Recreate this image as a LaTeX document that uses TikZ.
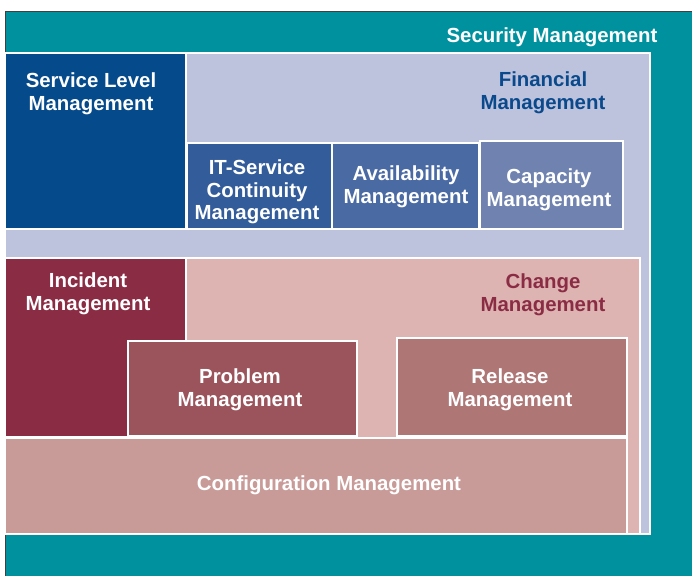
\documentclass[tikz,border=0pt]{standalone}
\usepackage{fontspec}
\setmainfont{Liberation Sans}
\definecolor{teal1}{RGB}{0,145,159}
\definecolor{lav}{RGB}{190,195,221}
\definecolor{slm}{RGB}{5,74,139}
\definecolor{itsc}{RGB}{51,92,154}
\definecolor{avail}{RGB}{74,106,164}
\definecolor{capac}{RGB}{112,131,176}
\definecolor{finblue}{RGB}{10,74,140}
\definecolor{incid}{RGB}{139,44,69}
\definecolor{chg}{RGB}{222,180,178}
\definecolor{chgtext}{RGB}{139,44,69}
\definecolor{probl}{RGB}{156,84,92}
\definecolor{relea}{RGB}{175,118,118}
\definecolor{confg}{RGB}{200,155,152}
\tikzset{
  area/.style={draw=white, line width=1.5pt},
  lbl/.style={font=\fontsize{20.4}{22.5}\selectfont\bfseries, align=center, inner sep=0pt, text=white},
}
\begin{document}
\begin{tikzpicture}[x=1pt,y=-1pt]
\useasboundingbox (0,0) rectangle (692,576);
% outer security area
\fill[teal1] (5,11) rectangle (692,576);
\draw[black!75, line width=0.8pt] (5,576) -- (5,11) -- (692,11);
\node[lbl, anchor=center] (secl) at (552,37) {Security Management};
% financial
\draw[area, fill=lav] (5,53) rectangle (650,534);
\node[lbl, text=finblue] (finl) at (543,93) {Financial\\Management};
% service level
\draw[area, fill=slm] (5,53) rectangle (186,229);
\node[lbl] (slml) at (91,94) {Service Level\\Management};
% IT service continuity
\draw[area, fill=itsc] (187,143) rectangle (332,229);
\node[lbl] (itscl) at (257,192) {IT-Service\\Continuity\\Management};
% availability
\draw[area, fill=avail] (332,143) rectangle (479,229);
\node[lbl] (availl) at (406,187) {Availability\\Management};
% capacity
\draw[area, fill=capac] (480,141) rectangle (623,229);
\node[lbl] (capl) at (549,190) {Capacity\\Management};
% change
\draw[area, fill=chg] (186,258) rectangle (640,534);
\node[lbl, text=chgtext] (chgl) at (543,295) {Change\\Management};
% incident
\draw[area, fill=incid] (5,258) rectangle (186,437);
\node[lbl] (incl) at (88,294) {Incident\\Management};
% problem
\draw[area, fill=probl] (128,341) rectangle (357,436);
\node[lbl] (probl) at (240,390) {Problem\\Management};
% release
\draw[area, fill=relea] (397,338) rectangle (627,436);
\node[lbl] (rell) at (510,390) {Release\\Management};
% configuration
\draw[area, fill=confg] (5,438) rectangle (627,534);
\node[lbl] (confl) at (329,485) {Configuration Management};
\end{tikzpicture}
\end{document}
